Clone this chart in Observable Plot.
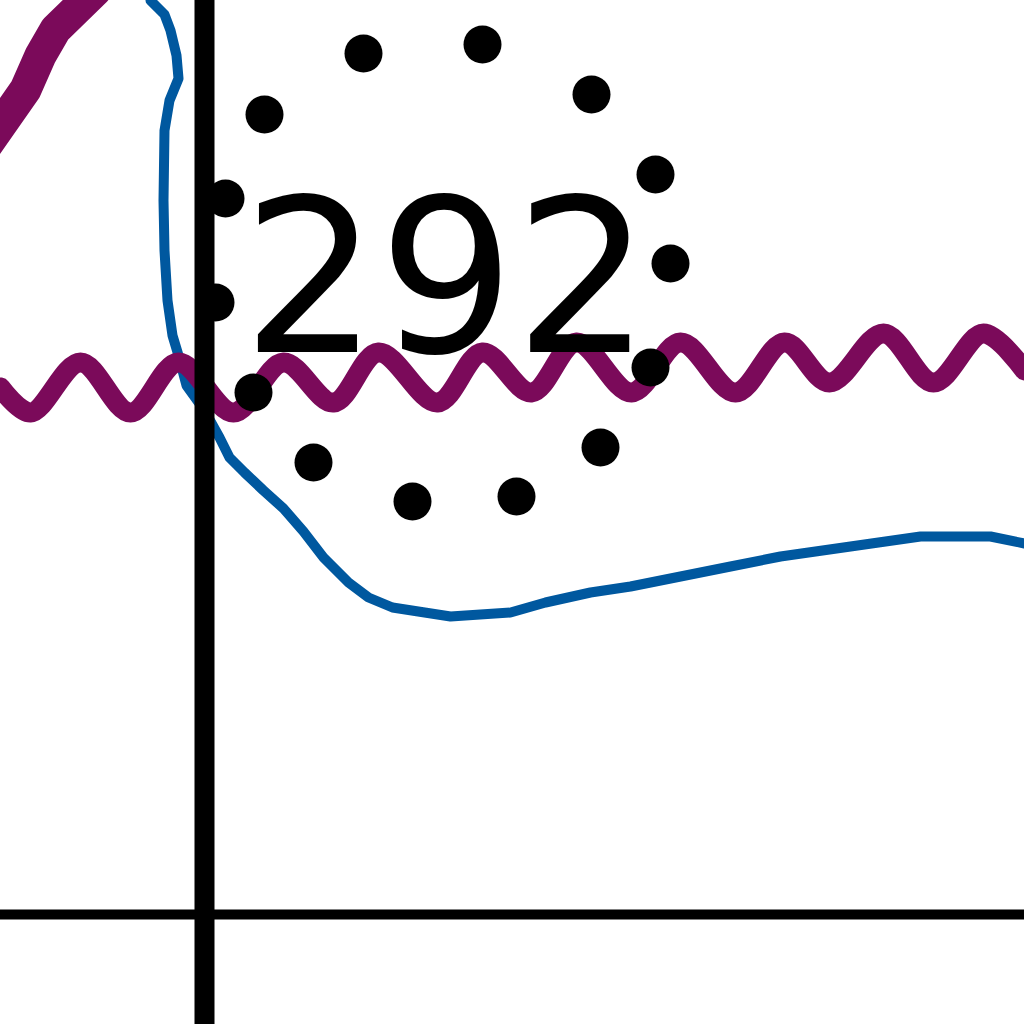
<!DOCTYPE html>
<html>
<head>
<meta charset="utf-8">
<script src="https://cdn.jsdelivr.net/npm/d3@7"></script>
<script src="https://cdn.jsdelivr.net/npm/@observablehq/plot@0.6"></script>
<style>
  html, body { margin: 0; padding: 0; background: #fff; overflow: hidden; }
  #chart svg { display: block; }
</style>
</head>
<body>
<div id="chart"></div>
<script>
// blue response curve (x, y)
var blueX = [-0.54, -0.40, -0.34, -0.28, -0.26, -0.35, -0.40, -0.41, -0.40, -0.37, -0.32, -0.26, -0.18, 0.00,
             0.15, 0.25, 0.40, 0.59, 0.79, 0.99, 1.19, 1.44, 1.64, 1.88, 2.46, 3.06, 3.41, 3.86, 4.26, 4.76,
             5.26, 5.76, 6.46, 7.16, 7.86, 8.20];
var blueY = [9.14, 9.00, 8.84, 8.59, 8.36, 8.14, 7.84, 7.14, 6.64, 6.14, 5.79, 5.59, 5.29, 5.04,
             4.77, 4.57, 4.42, 4.24, 4.06, 3.83, 3.57, 3.32, 3.17, 3.07, 2.98, 3.02, 3.12, 3.22, 3.28, 3.38,
             3.48, 3.58, 3.68, 3.78, 3.78, 3.71];

// purple wave, peaks and troughs
var waveX = [-2.04, -1.74, -1.24, -0.74, -0.26, 0.29, 0.79, 1.29, 1.74, 2.33, 2.78, 3.27, 3.72, 4.27, 4.76,
             5.31, 5.80, 6.25, 6.79, 7.29, 7.79, 8.20];
var waveY = [5.27, 5.02, 5.52, 5.02, 5.52, 5.02, 5.52, 5.12, 5.62, 5.12, 5.62, 5.22, 5.72, 5.22, 5.72,
             5.22, 5.72, 5.32, 5.81, 5.32, 5.81, 5.44];

// thick purple stroke in the top left corner
var slashX = [-1.09, -1.49, -1.64, -1.79, -2.18];
var slashY = [9.24, 8.85, 8.59, 8.25, 7.69];

// ring of dots
var dotX = [2.78, 1.59, 0.60, 0.21, 0.11, 0.49, 1.09, 2.08, 3.12, 3.96, 4.46, 4.66, 4.51, 3.87];
var dotY = [8.70, 8.61, 8.00, 7.16, 6.12, 5.22, 4.52, 4.13, 4.18, 4.67, 5.47, 6.51, 7.40, 8.20];

var label = "292";
var labelX = 2.42, labelY = 5.63;

var blue = blueX.map((x, i) => ({x: x, y: blueY[i]}));
var wave = waveX.map((x, i) => ({x: x, y: waveY[i]}));
var slash = slashX.map((x, i) => ({x: x, y: slashY[i]}));
var dots = dotX.map((x, i) => ({x: x, y: dotY[i]}));

var chart = Plot.plot({
  width: 1024,
  height: 1024,
  margin: 0,
  x: {domain: [-2.04, 8.20], axis: null},
  y: {domain: [-1.10, 9.14], axis: null},
  style: {background: "#fff"},
  marks: [
    Plot.line(blue, {x: "x", y: "y", stroke: "#00589f", strokeWidth: 10, strokeLinejoin: "round"}),
    Plot.line(wave, {x: "x", y: "y", stroke: "#7b0a5a", strokeWidth: 20, curve: "catmull-rom"}),
    Plot.line(slash, {x: "x", y: "y", stroke: "#7b0a5a", strokeWidth: 32, strokeLinejoin: "round"}),
    Plot.ruleX([0], {stroke: "#000", strokeWidth: 20}),
    Plot.ruleY([0], {stroke: "#000", strokeWidth: 10}),
    Plot.dot(dots, {x: "x", y: "y", r: 19, fill: "#000"}),
    Plot.text([label], {x: () => labelX, y: () => labelY, text: d => d, fontSize: 214,
      fontFamily: "DejaVu Sans", fill: "#000", textAnchor: "middle", lineAnchor: "bottom"})
  ]
});

d3.select("#chart").append(() => chart);
</script>
</body>
</html>
